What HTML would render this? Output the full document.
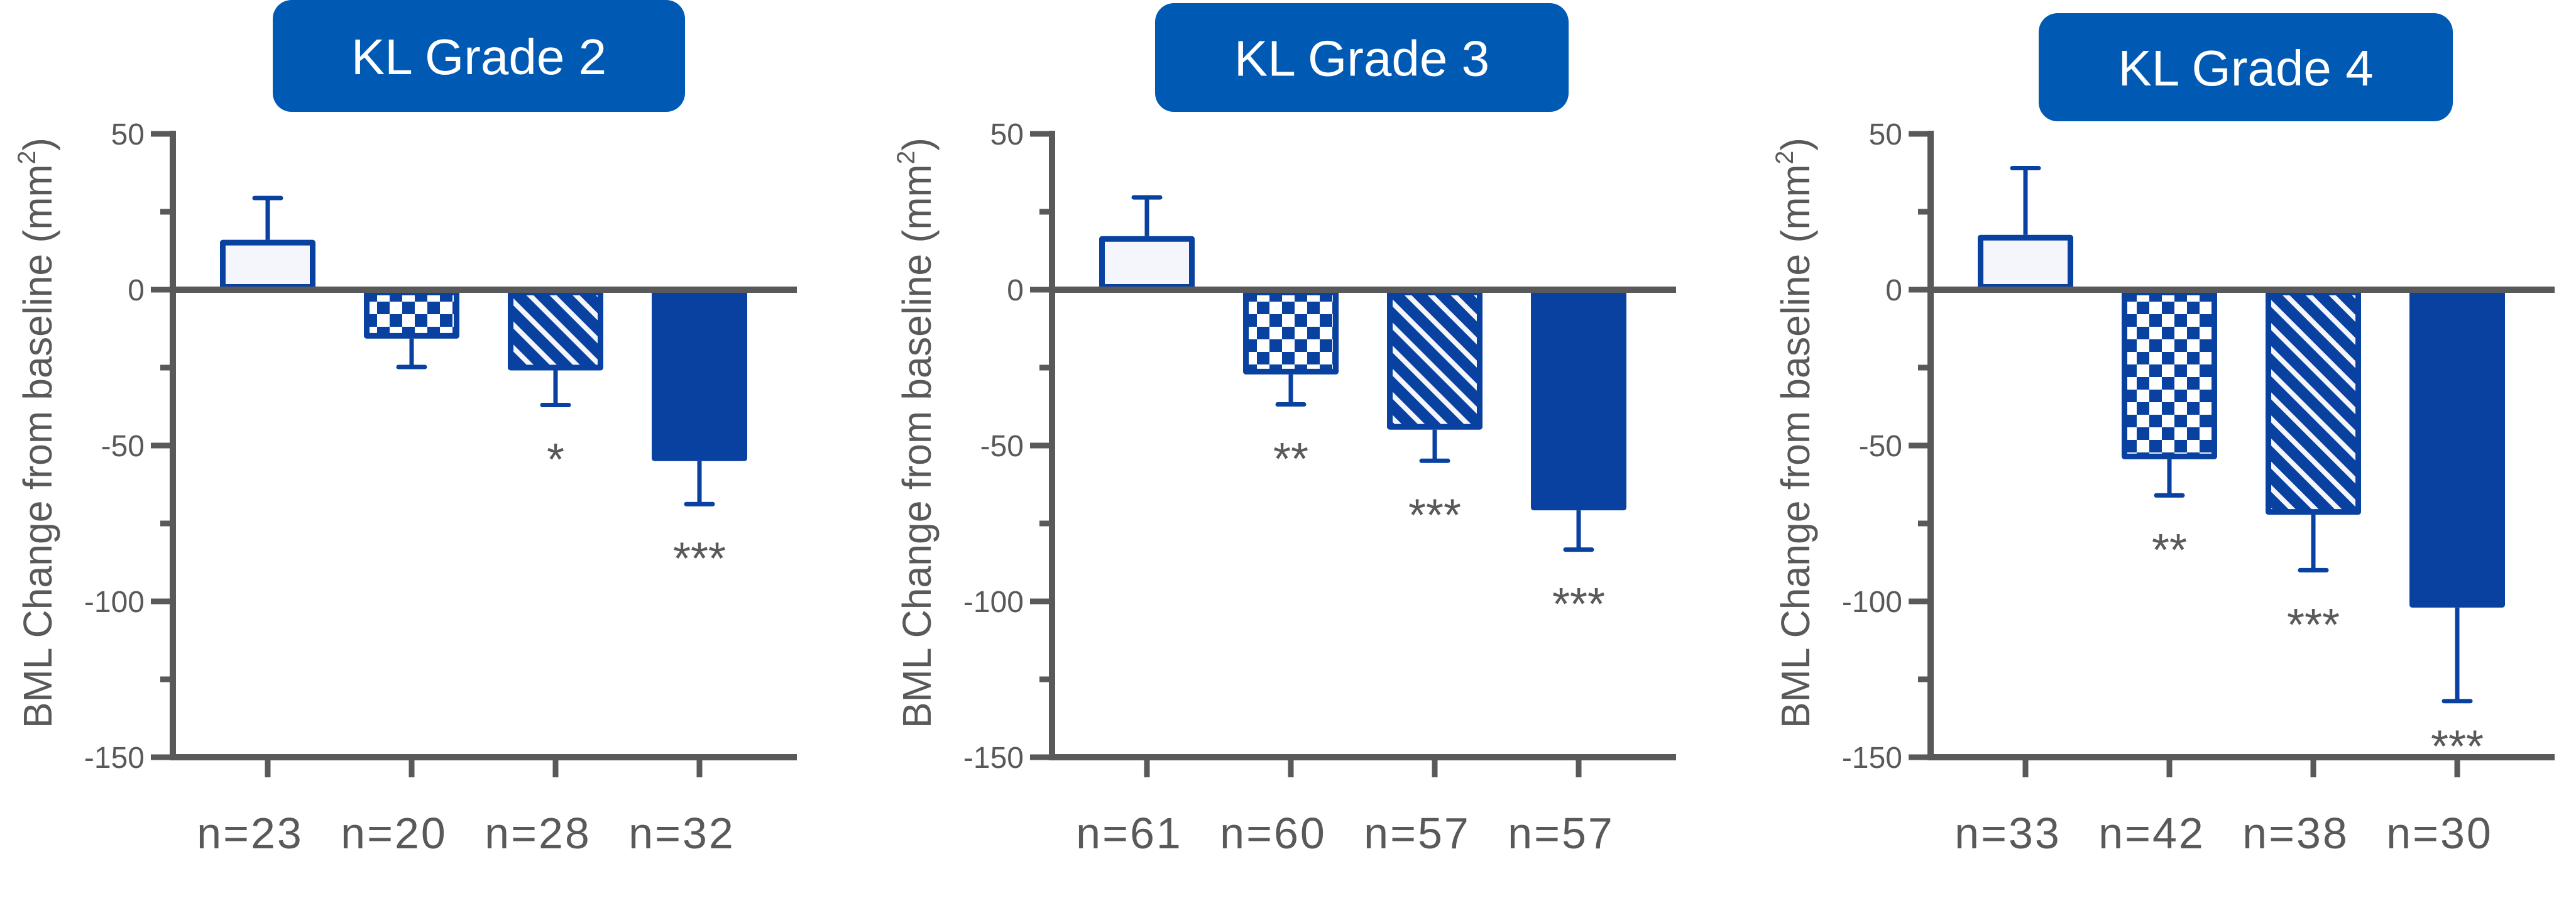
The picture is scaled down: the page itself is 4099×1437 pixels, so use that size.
<!DOCTYPE html>
<html><head><meta charset="utf-8"><style>
html,body{margin:0;padding:0;background:#fff;}
svg{display:block;font-family:"Liberation Sans",Arial,sans-serif;}
</style></head><body>
<svg id="chart" width="4099" height="1437" viewBox="0 0 4099 1437" xmlns="http://www.w3.org/2000/svg">
<defs>
<pattern id="checker" patternUnits="userSpaceOnUse" width="40" height="40">
<rect width="40" height="40" fill="#ffffff"/>
<rect x="0" y="0" width="20" height="20" fill="#0841a0"/>
<rect x="20" y="20" width="20" height="20" fill="#0841a0"/>
</pattern>
<pattern id="hatch" patternUnits="userSpaceOnUse" width="26" height="26" patternTransform="rotate(-45)">
<rect width="26" height="26" fill="#0841a0"/>
<rect x="0" y="0" width="8" height="26" fill="#f5f5fc"/>
</pattern>
</defs>
</svg>
<script>
const panelTitles = ["KL Grade 2", "KL Grade 3", "KL Grade 4"];
const nLabels = [["n=23","n=20","n=28","n=32"],["n=61","n=60","n=57","n=57"],["n=33","n=42","n=38","n=30"]];
const meanG2 = [16, -15.7, -25.9, -55];
const errG2 = [29.4, -24.8, -37, -68.8];
const meanG3 = [17.2, -27.2, -44.9, -70.8];
const errG3 = [29.6, -36.8, -54.9, -83.4];
const meanG4 = [17.6, -54.4, -72.2, -102];
const errG4 = [39, -66, -90, -132];
const starsG2 = ["", "", "*", "***"];
const starsG3 = ["", "**", "***", "***"];
const starsG4 = ["", "**", "***", "***"];
const yMajorTicks = [50, 0, -50, -100, -150];
const yMinorTicks = [25, -25, -75, -125];

const means = [meanG2, meanG3, meanG4];
const errs = [errG2, errG3, errG4];
const stars = [starsG2, starsG3, starsG4];

const svg = document.getElementById('chart');
const NS = 'http://www.w3.org/2000/svg';
function mk(tag, attrs, parent){ const e=document.createElementNS(NS,tag); for(const k in attrs) e.setAttribute(k,attrs[k]); (parent||svg).appendChild(e); return e; }

const axisX = [275, 1674, 3072];
const titleBox = [[434,0,656,178],[1838,5,658,173],[3244,21,659,172]];
const Y0 = 1205, PXU = 4.96;
function yS(v){ return Y0 - (v + 150) * PXU; }
const GREY = '#595959', BLUE = '#0841a0';
const fills = ['#f5f5fc', 'url(#checker)', 'url(#hatch)', BLUE];
const barNames = ['placebo-bar','checker-bar','hatched-bar','solid-bar'];

for (let p = 0; p < 3; p++) {
  const ax = axisX[p];
  const g = mk('g', {});
  
  
  const xS = i => ax + 151 + i * 229;

  const tb = titleBox[p];
  const tr = mk('rect', {x:tb[0], y:tb[1], width:tb[2], height:tb[3], rx:30, fill:'#005ab4'}, g);
  
  
  const tt = mk('text', {x:tb[0]+tb[2]/2, y:tb[1]+tb[3]/2+29, 'font-size':80, fill:'#fff', 'text-anchor':'middle'}, g);
  tt.textContent = panelTitles[p];
  
  

  const yt = mk('text', {x:0, y:0, 'font-size':64, fill:GREY, 'text-anchor':'middle', textLength:940, lengthAdjust:'spacingAndGlyphs', transform:`translate(${ax-193},${(yS(50)+yS(-150))/2-20}) rotate(-90)`}, g);
  
  
  yt.appendChild(document.createTextNode('BML Change from baseline (mm'));
  const sup = mk('tspan', {'font-size':40, dy:-26}, yt);
  sup.textContent = '2';
  const cl = mk('tspan', {dy:26}, yt);
  cl.textContent = ')';

  for (let i = 0; i < 4; i++) {
    const v = means[p][i], e = errs[p][i];
    const cx = xS(i), w = 152, sw = 9;
    const y1 = Math.min(yS(v), yS(0)), y2 = Math.max(yS(v), yS(0));
    const el = mk('line', {x1:cx, x2:cx, y1:yS(v), y2:yS(e), stroke:BLUE, 'stroke-width':7}, g);
    
    
    const ec = mk('line', {x1:cx-21, x2:cx+21, y1:yS(e), y2:yS(e), stroke:BLUE, 'stroke-width':7, 'stroke-linecap':'round'}, g);
    
    
    const b = mk('rect', {x:cx-w/2+sw/2, y:y1+sw/2, width:w-sw, height:Math.max(0,y2-y1-sw), fill:fills[i], stroke:BLUE, 'stroke-width':sw, 'stroke-linejoin':'round'}, g);
    
    
    if (stars[p][i]) {
      const sv = Math.max(e - 14, -143);
      const st = mk('text', {x:cx, y:yS(sv)+42, 'font-size':72, fill:GREY, 'text-anchor':'middle'}, g);
      st.textContent = stars[p][i];
      
      
    }
  }

  const ya = mk('line', {x1:ax, x2:ax, y1:yS(50)-5, y2:yS(-150)+5, stroke:GREY, 'stroke-width':10}, g);
  
  
  const xa = mk('line', {x1:ax, x2:ax+993, y1:yS(-150), y2:yS(-150), stroke:GREY, 'stroke-width':10}, g);
  
  
  const zl = mk('line', {x1:ax, x2:ax+993, y1:yS(0), y2:yS(0), stroke:GREY, 'stroke-width':10}, g);
  
  

  yMajorTicks.forEach(t => {
    const tl = mk('line', {x1:ax-35, x2:ax, y1:yS(t), y2:yS(t), stroke:GREY, 'stroke-width':9}, g);
    
    
    const lb = mk('text', {x:ax-45, y:yS(t)+17, 'font-size':48, fill:GREY, 'text-anchor':'end'}, g);
    lb.textContent = String(t);
    
    
  });
  yMinorTicks.forEach(t => {
    const tl = mk('line', {x1:ax-20, x2:ax, y1:yS(t), y2:yS(t), stroke:GREY, 'stroke-width':9}, g);
    
    
  });
  for (let i = 0; i < 4; i++) {
    const tl = mk('line', {x1:xS(i), x2:xS(i), y1:yS(-150), y2:yS(-150)+32, stroke:GREY, 'stroke-width':9}, g);
    
    
    const lb = mk('text', {x:xS(i)-28, y:1350, 'font-size':70, fill:GREY, 'text-anchor':'middle', 'letter-spacing':3}, g);
    lb.textContent = nLabels[p][i];
    
    
  }
}
</script>
</body></html>
